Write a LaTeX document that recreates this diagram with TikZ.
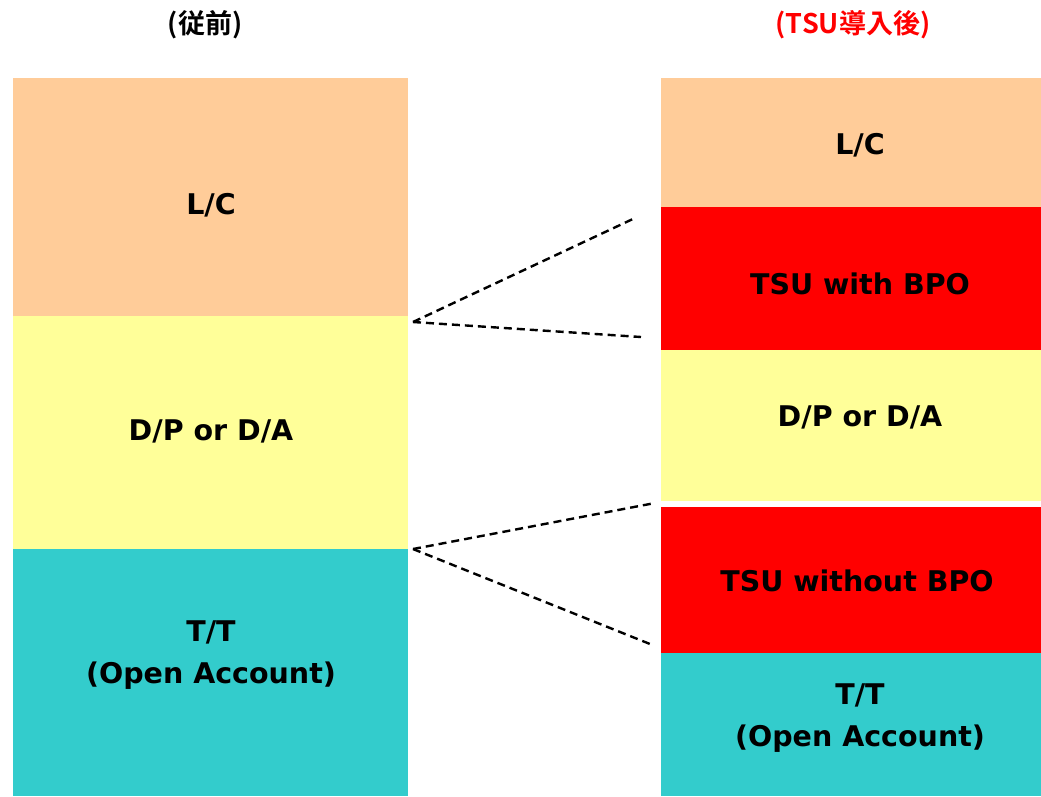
\documentclass[tikz,border=0pt]{standalone}
\usepackage{fontspec}
\setmainfont{DejaVu Sans}
\newfontfamily\cjk{Noto Sans CJK JP Bold}
\definecolor{peach}{HTML}{FFCC99}
\definecolor{paleyellow}{HTML}{FFFF99}
\definecolor{teal2}{HTML}{33CCCC}
\definecolor{pured}{HTML}{FF0000}
\tikzset{
  band/.style={inner sep=0pt, outer sep=0pt},
  lbl/.style={font=\fontsize{28.5}{42}\selectfont\bfseries, align=center, inner sep=0pt, text=black},
  ttl/.style={font=\cjk\fontsize{27}{30}\selectfont, inner sep=0pt},
  link/.style={dashed, dash pattern=on 8pt off 5pt, line width=2.4pt, black}
}
\begin{document}
\begin{tikzpicture}[x=1pt,y=-1pt]
\useasboundingbox (0,0) rectangle (1041,796);
\fill[white] (0,0) rectangle (1041,796);
% titles
\node[ttl] (t1) at (205,25) {(従前)};
\node[ttl, text=pured] (t2) at (853,25) {(TSU導入後)};
% left column
\fill[peach] (13,78) rectangle (408,316);
\fill[paleyellow] (13,316) rectangle (408,549);
\fill[teal2] (13,549) rectangle (408,796);
\node[lbl] (llc) at (211,205) {L/C};
\node[lbl] (ldp) at (211,431) {D/P or D/A};
\node[lbl] (ltt) at (211,655) {T/T\\(Open Account)};
% right column
\fill[peach] (661,78) rectangle (1041,207);
\fill[pured] (661,207) rectangle (1041,350);
\fill[paleyellow] (661,350) rectangle (1041,501);
\fill[pured] (661,507) rectangle (1041,653);
\fill[teal2] (661,653) rectangle (1041,796);
\node[lbl] (rlc) at (860,145) {L/C};
\node[lbl] (rtw) at (860,284) {TSU with BPO};
\node[lbl] (rdp) at (860,417) {D/P or D/A};
\node[lbl] (rto) at (857,581) {TSU without BPO};
\node[lbl] (rtt) at (860,718) {T/T\\(Open Account)};
% connectors
\coordinate (a) at (413,322);
\coordinate (a1) at (635,218);
\coordinate (a2) at (641,337);
\coordinate (b) at (413,549);
\coordinate (b1) at (655,503);
\coordinate (b2) at (650,644);
\draw[link] (a) -- (a1);
\draw[link] (a) -- (a2);
\draw[link] (b) -- (b1);
\draw[link] (b) -- (b2);
\end{tikzpicture}
\end{document}
